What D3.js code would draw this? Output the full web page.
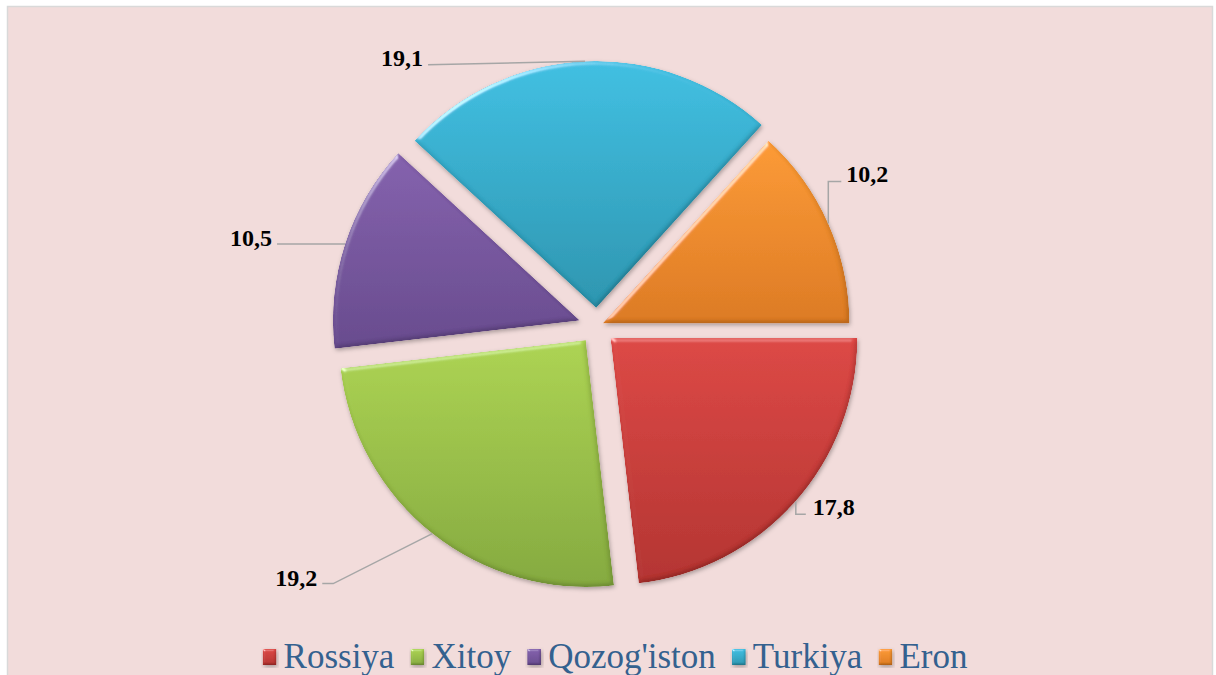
<!DOCTYPE html>
<html><head><meta charset="utf-8">
<script src="https://cdn.jsdelivr.net/npm/d3@7"></script>
<style>html,body{margin:0;padding:0;background:#fff;overflow:hidden}</style>
</head><body>
<svg id="chart" width="1216" height="675"></svg>
<script>
// ---- data ----
const categories = ["Rossiya", "Xitoy", "Qozog'iston", "Turkiya", "Eron"];
const values = [17.8, 19.2, 10.5, 19.1, 10.2];
const valueLabels = ["17,8", "19,2", "10,5", "19,1", "10,2"];

// ---- styles / layout ----
const topColors = ["#dc4744", "#acd352", "#8461ad", "#3fbfe2", "#fc9a34"];
const botColors = ["#b3322f", "#84a93e", "#674a8d", "#2b95af", "#dc7a21"];
const explode = [18, 18, 18, 18, 6];
// label placement relative to the leader's anchor point on the slice edge
const labelLayout = [
  {pts: [[1, 0], [1, 12], [11, 12]], tx: 18, ty: 13, anchor: "start"},
  {pts: [[-99, 50], [-110, 50]], tx: -115, ty: 52, anchor: "end"},
  {pts: [[-68, 0]], tx: -73, ty: 2, anchor: "end"},
  {pts: [[-157, 3.5]], tx: -162, ty: 5, anchor: "end"},
  {pts: [[0, -42], [13, -42]], tx: 18, ty: -41, anchor: "start"}
];

const cx = 597, cy = 326, R = 247;
const svg = d3.select("#chart");
const defs = svg.append("defs");

// background & border
svg.append("rect").attr("x", 7.5).attr("y", 6.5).attr("width", 1205).attr("height", 700)
  .attr("fill", "#f2dcdb").attr("stroke", "#d9d9d9").attr("stroke-width", 1.5);

// gradients
categories.forEach((c, i) => {
  const g = defs.append("linearGradient").attr("id", "grad" + i)
    .attr("x1", 0).attr("y1", 0).attr("x2", 0).attr("y2", 1);
  g.append("stop").attr("offset", "0%").attr("stop-color", topColors[i]);
  g.append("stop").attr("offset", "100%").attr("stop-color", botColors[i]);
});

// bevel filter
function makeBevel(id, blur, scale) {
  const f = defs.append("filter").attr("id", id).attr("x", "-10%").attr("y", "-10%")
    .attr("width", "125%").attr("height", "125%");
  f.append("feGaussianBlur").attr("in", "SourceAlpha").attr("stdDeviation", blur).attr("result", "blur");
  const spec = f.append("feSpecularLighting").attr("in", "blur").attr("surfaceScale", scale)
    .attr("specularConstant", 0.6).attr("specularExponent", 25).attr("lighting-color", "#ffffff")
    .attr("result", "spec");
  spec.append("feDistantLight").attr("azimuth", 235).attr("elevation", 18);
  f.append("feComposite").attr("in", "spec").attr("in2", "SourceAlpha").attr("operator", "in").attr("result", "specOut");
  const diff = f.append("feDiffuseLighting").attr("in", "blur").attr("surfaceScale", scale)
    .attr("diffuseConstant", 1).attr("lighting-color", "#ffffff").attr("result", "diff");
  diff.append("feDistantLight").attr("azimuth", 235).attr("elevation", 60);
  f.append("feComponentTransfer").attr("in", "diff").attr("result", "diffAdj")
    .call(s => { ["feFuncR", "feFuncG", "feFuncB"].forEach(t => s.append(t).attr("type", "linear").attr("slope", 0.6).attr("intercept", 0.48)); });
  f.append("feComposite").attr("in", "SourceGraphic").attr("in2", "diffAdj").attr("operator", "arithmetic")
    .attr("k1", 1).attr("k2", 0).attr("k3", 0).attr("k4", 0).attr("result", "lit");
  f.append("feComposite").attr("in", "lit").attr("in2", "SourceAlpha").attr("operator", "in").attr("result", "lit2");
  f.append("feComposite").attr("in", "lit2").attr("in2", "specOut").attr("operator", "arithmetic")
    .attr("k1", 0).attr("k2", 1).attr("k3", 0.8).attr("k4", 0).attr("result", "bev");
  f.append("feComposite").attr("in", "bev").attr("in2", "SourceAlpha").attr("operator", "in").attr("result", "bevIn");
  f.append("feDropShadow").attr("in", "bevIn").attr("dx", 1).attr("dy", 2).attr("stdDeviation", 2)
    .attr("flood-color", "#000").attr("flood-opacity", 0.3);
}
makeBevel("bevel", 2.5, 3);
makeBevel("bevelSmall", 1.2, 2);

// pie
const pie = d3.pie().sort(null).startAngle(Math.PI / 2).endAngle(Math.PI / 2 + 2 * Math.PI);
const arcs = pie(values);
const arc = d3.arc().innerRadius(0).outerRadius(R);

const g = svg.append("g").attr("transform", `translate(${cx},${cy})`);
arcs.forEach((a, i) => {
  const mid = (a.startAngle + a.endAngle) / 2;
  a.ox = Math.sin(mid) * explode[i]; a.oy = -Math.cos(mid) * explode[i]; a.mid = mid;
  g.append("path").attr("d", arc(a)).attr("transform", `translate(${a.ox},${a.oy})`)
    .attr("fill", `url(#grad${i})`).attr("filter", "url(#bevel)");
});

// labels with leader lines
arcs.forEach((a, i) => {
  const px = cx + a.ox + Math.sin(a.mid) * R;
  const py = cy + a.oy - Math.cos(a.mid) * R;
  const L = labelLayout[i];
  const pts = [[px, py]].concat(L.pts.map(p => [px + p[0], py + p[1]]));
  svg.append("path").attr("d", d3.line()(pts)).attr("fill", "none")
    .attr("stroke", "#a6a6a6").attr("stroke-width", 1.5);
  svg.append("text").attr("x", px + L.tx).attr("y", py + L.ty)
    .attr("text-anchor", L.anchor)
    .attr("font-family", "'Times New Roman','Liberation Serif',serif")
    .attr("font-weight", "bold").attr("font-size", 24).attr("fill", "#000")
    .text(valueLabels[i]);
});

// legend
const leg = svg.append("g");
let x = 0;
categories.forEach((c, i) => {
  const it = leg.append("g");
  it.append("rect").attr("x", x).attr("y", 649).attr("width", 14).attr("height", 16)
    .attr("fill", `url(#grad${i})`).attr("filter", "url(#bevelSmall)");
  const t = it.append("text").attr("x", x + 21).attr("y", 668)
    .attr("font-family", "'Times New Roman','Liberation Serif',serif")
    .attr("font-size", 35).attr("fill", "#34618f").text(c);
  const w = t.node().getComputedTextLength();
  x += 21 + w + 16;
});
const total = x - 16;
leg.attr("transform", `translate(${615 - total / 2},0)`);
</script>
</body></html>
